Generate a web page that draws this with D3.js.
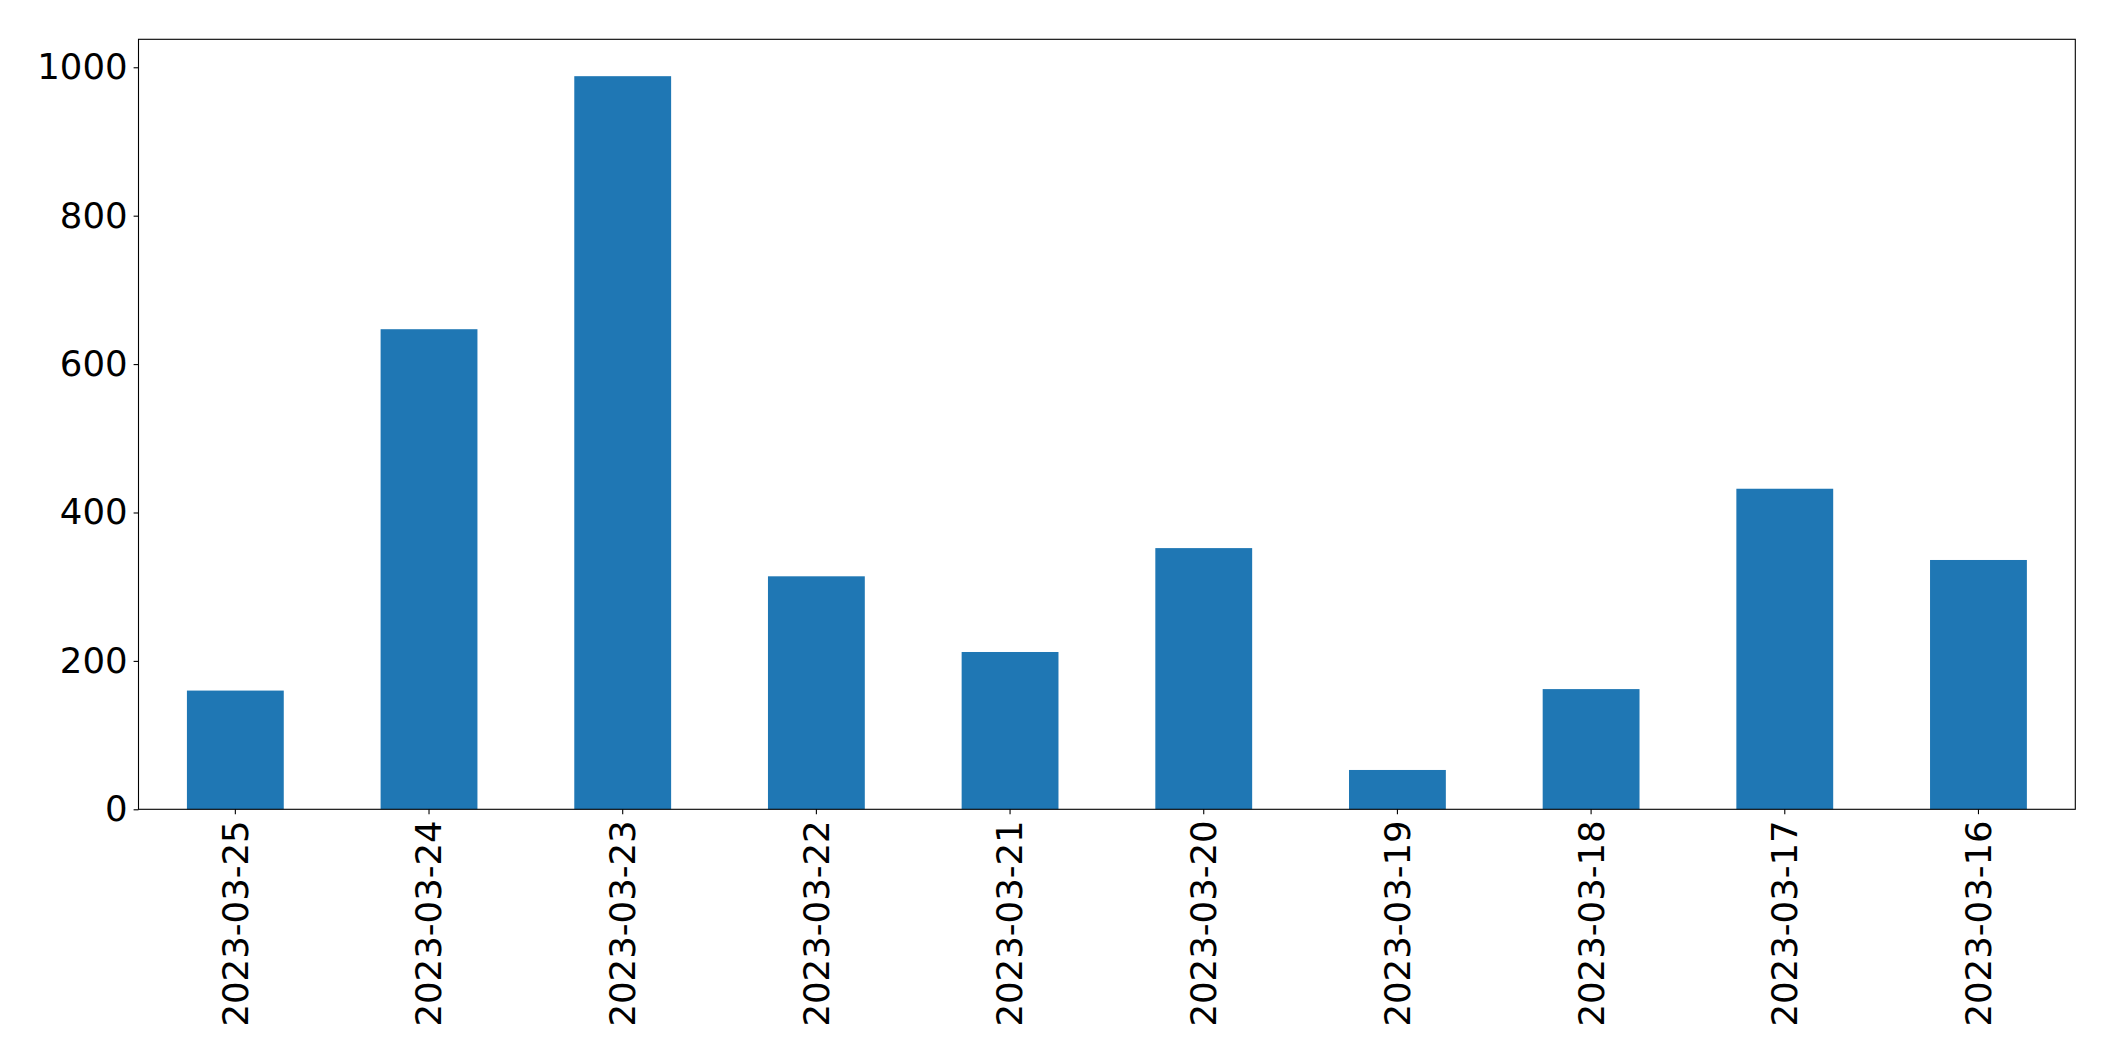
<!DOCTYPE html>
<html>
<head>
<meta charset="utf-8">
<script src="https://cdn.jsdelivr.net/npm/d3@7"></script>
<style>
  html, body { margin: 0; padding: 0; background: #fff; }
  svg { display: block; }
  text { font-family: "DejaVu Sans", sans-serif; }
</style>
</head>
<body>
<svg id="chart" width="2115" height="1061"></svg>
<script>
const categories = ["2023-03-25","2023-03-24","2023-03-23","2023-03-22","2023-03-21","2023-03-20","2023-03-19","2023-03-18","2023-03-17","2023-03-16"];
const values = [160, 647, 988, 314, 212, 352, 53, 162, 432, 336];
const yTicks = [0, 200, 400, 600, 800, 1000];

const W = 2115, H = 1061;
const m = { left: 138.5, right: W - 2075.3, top: 39.3, bottom: H - 809.3 };
const iw = W - m.left - m.right, ih = H - m.top - m.bottom;
const fs = 35.5;

const svg = d3.select("#chart");
const g = svg.append("g").attr("transform", `translate(${m.left},${m.top})`);

const x = d3.scaleBand().domain(categories).range([0, iw]).paddingInner(0.5).paddingOuter(0.25);
const y = d3.scaleLinear().domain([0, 1037.7]).range([ih, 0]);

g.selectAll("rect.bar").data(values).join("rect")
  .attr("class", "bar")
  .attr("x", (d, i) => x(categories[i]))
  .attr("width", x.bandwidth())
  .attr("y", d => y(d))
  .attr("height", d => y(0) - y(d))
  .attr("fill", "#1f77b4");

const yAxis = g.append("g").call(d3.axisLeft(y).tickValues(yTicks).tickSize(4.9).tickPadding(6).tickFormat(d3.format("d")));
yAxis.select(".domain").remove();
yAxis.selectAll("line").attr("stroke", "#000").attr("stroke-width", 1.1);
yAxis.selectAll("text").attr("font-size", fs).attr("fill", "#000").attr("font-family", "DejaVu Sans, sans-serif");

const xAxis = g.append("g").attr("transform", `translate(0,${ih})`).call(d3.axisBottom(x).tickSize(4.9).tickPadding(0));
xAxis.select(".domain").remove();
xAxis.selectAll("line").attr("stroke", "#000").attr("stroke-width", 1.1);
xAxis.selectAll("text")
  .attr("font-size", fs).attr("fill", "#000").attr("font-family", "DejaVu Sans, sans-serif")
  .attr("text-anchor", "end")
  .attr("transform", "translate(0,11) rotate(-90)")
  .attr("x", 0).attr("y", 0).attr("dy", "0.35em");

g.append("rect").attr("x", 0).attr("y", 0).attr("width", iw).attr("height", ih)
  .attr("fill", "none").attr("stroke", "#000").attr("stroke-width", 1.1);
</script>
</body>
</html>
